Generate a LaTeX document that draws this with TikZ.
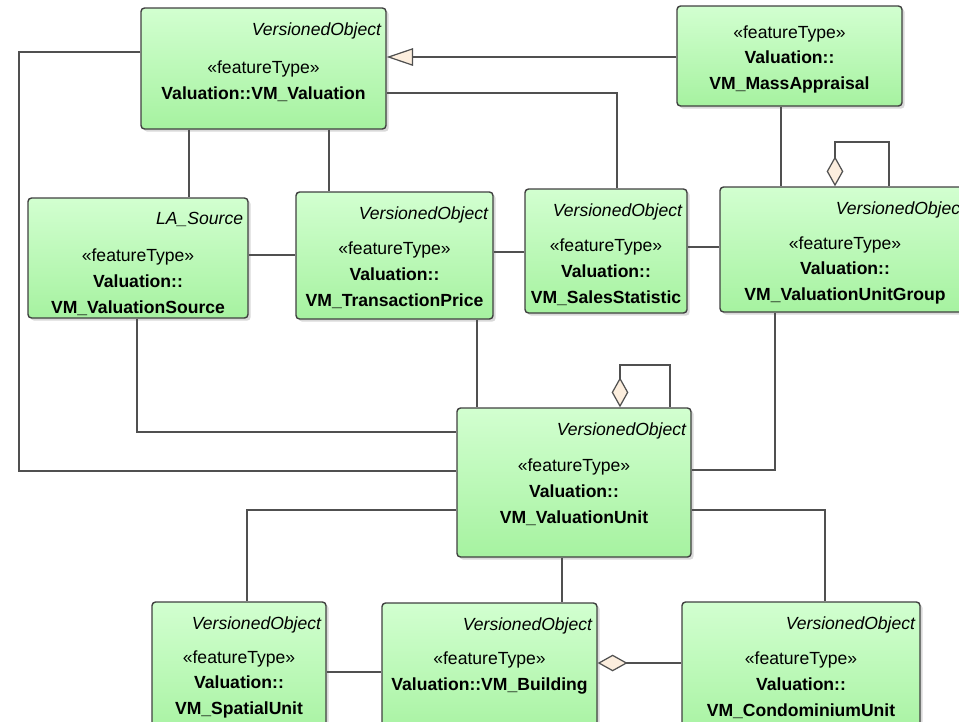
\documentclass[tikz,border=0pt]{standalone}
\usepackage{fontspec}
\setmainfont{Liberation Sans}
\usetikzlibrary{arrows.meta, positioning, fit, calc, shadows}

\definecolor{boxtop}{RGB}{210,255,208}
\definecolor{boxbot}{RGB}{166,242,160}
\definecolor{boxline}{RGB}{64,64,64}
\definecolor{wire}{RGB}{80,80,80}
\definecolor{aggfill}{RGB}{252,238,222}

\begin{document}
\begin{tikzpicture}[x=0.02cm, y=-0.02cm,
   cls/.style={draw=boxline, line width=0.8pt, rounded corners=2pt, inner sep=0pt,
      top color=boxtop, bottom color=boxbot,
      drop shadow={opacity=0.3, shadow xshift=1.5pt, shadow yshift=-1.5pt}},
   parent/.style={anchor=north east, xshift=-1pt, yshift=-6.5pt, inner sep=2pt,
      font=\fontsize{10}{12}\selectfont\itshape},
   body/.style={align=center, inner sep=0pt, font=\fontsize{10}{14.7}\selectfont},
   assoc/.style={draw=wire, line width=0.7pt},
   gen/.style={assoc, -{Triangle[length=15pt, width=10pt, fill=aggfill]}},
   agg/.style={assoc, {Diamond[length=17pt, width=9.5pt, fill=aggfill]}-}]
   \useasboundingbox (0,0) rectangle (959,721);
   \clip (0,0) rectangle (959,721);

   % classes
   \node[cls, fit={(141,8) (386,129)}] (valuation) {};
   \node[parent] (valuationP) at (valuation.north east) {VersionedObject};
   \node[body] (valuationT) at ($(valuation.north)+(0,73.5)$) {«featureType»\\\textbf{Valuation::VM\_Valuation}};

   \node[cls, fit={(677,6) (902,106)}] (mass) {};
   \node[body] (massT) at ($(mass.north)+(0,54)$) {«featureType»\\\textbf{Valuation::}\\\textbf{VM\_MassAppraisal}};

   \node[cls, fit={(28,198) (248,318)}] (source) {};
   \node[parent] (sourceP) at (source.north east) {LA\_Source};
   \node[body] (sourceT) at ($(source.north)+(0,85)$) {«featureType»\\\textbf{Valuation::}\\\textbf{VM\_ValuationSource}};

   \node[cls, fit={(296,192) (493,319)}] (transaction) {};
   \node[parent] (transactionP) at (transaction.north east) {VersionedObject};
   \node[body] (transactionT) at ($(transaction.north)+(0,84)$) {«featureType»\\\textbf{Valuation::}\\\textbf{VM\_TransactionPrice}};

   \node[cls, fit={(525,189) (687,313)}] (sales) {};
   \node[parent] (salesP) at (sales.north east) {VersionedObject};
   \node[body] (salesT) at ($(sales.north)+(0,84)$) {«featureType»\\\textbf{Valuation::}\\\textbf{VM\_SalesStatistic}};

   \node[cls, fit={(720,187) (970,312)}] (group) {};
   \node[parent] (groupP) at (group.north east) {VersionedObject};
   \node[body] (groupT) at ($(group.north)+(0,84)$) {«featureType»\\\textbf{Valuation::}\\\textbf{VM\_ValuationUnitGroup}};

   \node[cls, fit={(457,408) (691,557)}] (unit) {};
   \node[parent] (unitP) at (unit.north east) {VersionedObject};
   \node[body] (unitT) at ($(unit.north)+(0,85)$) {«featureType»\\\textbf{Valuation::}\\\textbf{VM\_ValuationUnit}};

   \node[cls, fit={(152,602) (326,740)}] (spatial) {};
   \node[parent] (spatialP) at (spatial.north east) {VersionedObject};
   \node[body] (spatialT) at ($(spatial.north)+(0,83)$) {«featureType»\\\textbf{Valuation::}\\\textbf{VM\_SpatialUnit}};

   \node[cls, fit={(382,603) (597,740)}] (building) {};
   \node[parent] (buildingP) at (building.north east) {VersionedObject};
   \node[body] (buildingT) at ($(building.north)+(0,70.5)$) {«featureType»\\\textbf{Valuation::VM\_Building}};

   \node[cls, fit={(682,602) (920,740)}] (condo) {};
   \node[parent] (condoP) at (condo.north east) {VersionedObject};
   \node[body] (condoT) at ($(condo.north)+(0,84)$) {«featureType»\\\textbf{Valuation::}\\\textbf{VM\_CondominiumUnit}};

   % generalization
   \draw[gen] (mass.west |- 0,57) -- (valuation.east |- 0,57);

   % associations
   \draw[assoc] (valuation.west |- 0,52) -| (19,471) -- (unit.west |- 0,471);
   \draw[assoc] (valuation.east |- 0,93) -| (617,0 |- sales.north);
   \draw[assoc] (189,0 |- valuation.south) -- (189,0 |- source.north);
   \draw[assoc] (329,0 |- valuation.south) -- (329,0 |- transaction.north);
   \draw[assoc] (source.east |- 0,255) -- (transaction.west |- 0,255);
   \draw[assoc] (transaction.east |- 0,252) -- (sales.west |- 0,252);
   \draw[assoc] (sales.east |- 0,247) -- (group.west |- 0,247);
   \draw[assoc] (781,0 |- mass.south) -- (781,0 |- group.north);
   \draw[assoc] (137,0 |- source.south) |- (unit.west |- 0,432);
   \draw[assoc] (477,0 |- transaction.south) -- (477,0 |- unit.north);
   \draw[assoc] (775,0 |- group.south) |- (unit.east |- 0,470);
   \draw[assoc] (unit.west |- 0,510) -| (247,0 |- spatial.north);
   \draw[assoc] (562,0 |- unit.south) -- (562,0 |- building.north);
   \draw[assoc] (unit.east |- 0,510) -| (825,0 |- condo.north);
   \draw[assoc] (spatial.east |- 0,672) -- (building.west |- 0,672);

   % aggregations
   \draw[agg] (835,0 |- group.north) |- (889,142) -- (889,0 |- group.north);
   \draw[agg] (620,0 |- unit.north) |- (670,365) -- (670,0 |- unit.north);
   \draw[agg] (building.east |- 0,663) -- (condo.west |- 0,663);
\end{tikzpicture}
\end{document}
